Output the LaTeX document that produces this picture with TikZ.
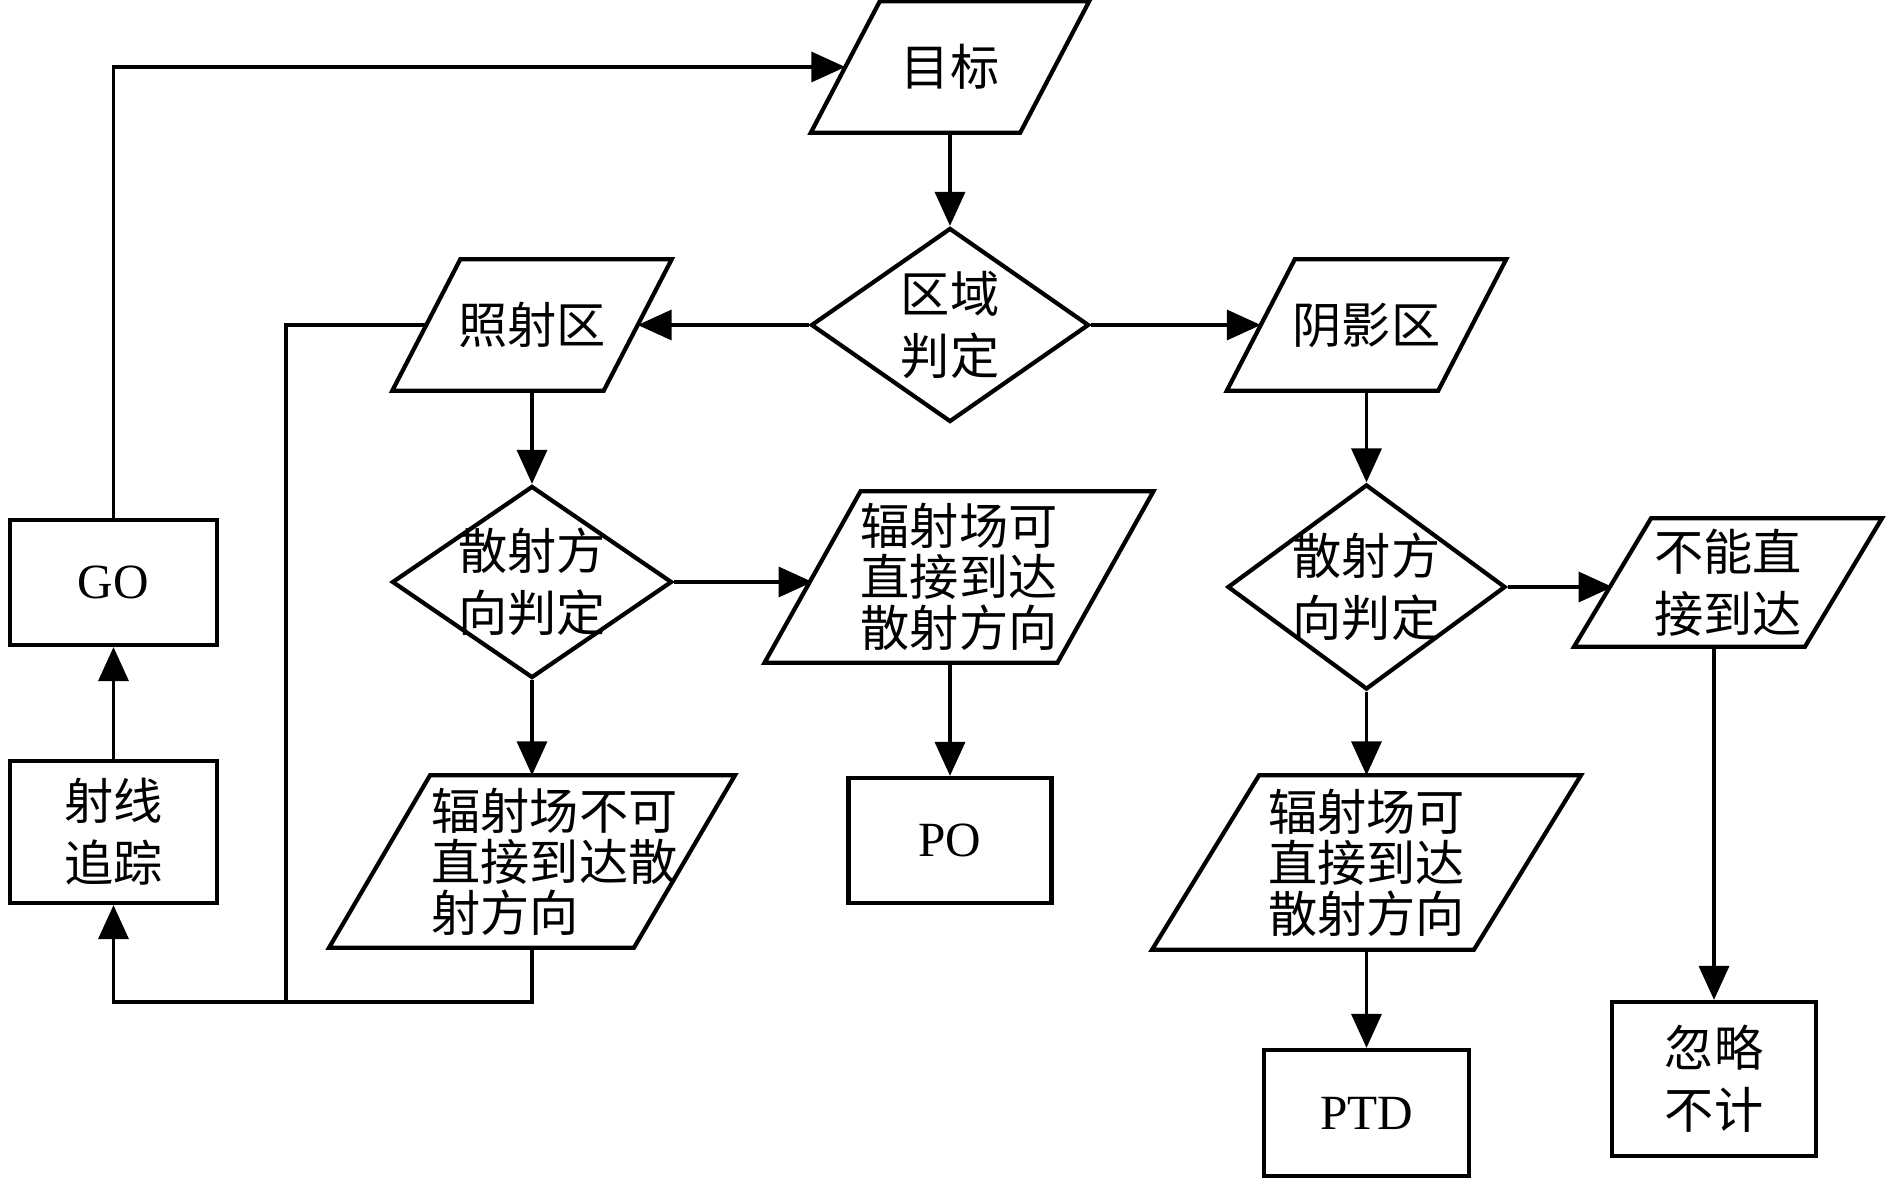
\documentclass[tikz,border=0pt]{standalone}
\usepackage{fontspec}
\setmainfont{Noto Sans CJK SC}
\newfontfamily\latinfont{Liberation Serif}
\usetikzlibrary{shapes.geometric,arrows.meta}

\begin{document}
\begin{tikzpicture}[
    >={Triangle[length=3.4mm,width=3mm]},
    font=\fontsize{14pt}{17.6pt}\selectfont,
    shapeLine/.style={line width=1.2pt},
    flowLine/.style={line width=1.0pt},
    procBox/.style={draw, shapeLine, inner sep=0pt, align=center},
    decDiamond/.style={draw, shapeLine, diamond, inner sep=0pt},
    ioPara/.style={inner sep=0pt, align=center, append after command={\pgfextra{\draw[shapeLine] ([xshift=#1]\tikzlastnode.north west) -- ([xshift=#1]\tikzlastnode.north east) -- ([xshift=-#1]\tikzlastnode.south east) -- ([xshift=-#1]\tikzlastnode.south west) -- cycle;}}},
    tightText/.style={font=\fontsize{14pt}{14.5pt}\selectfont}
]
    \useasboundingbox (0,0) rectangle (18.9,-11.81);

    % Target and region check
    \node[ioPara=0.345cm, minimum width=2.08cm, minimum height=1.30cm] (goal) at (9.50,-0.67) {目标};
    \node[decDiamond, minimum width=2.78cm, minimum height=1.94cm, label={[align=center]center:{区域\\判定}}] (region) at (9.50,-3.25) {};

    % Zones
    \node[ioPara=0.34cm, minimum width=2.10cm, minimum height=1.30cm] (lit) at (5.32,-3.25) {照射区};
    \node[ioPara=0.34cm, minimum width=2.10cm, minimum height=1.30cm] (shadow) at (13.665,-3.25) {阴影区};

    % Scattering direction checks
    \node[decDiamond, minimum width=2.80cm, minimum height=1.92cm, label={[align=center]center:{散射方\\向判定}}] (dirL) at (5.32,-5.82) {};
    \node[decDiamond, minimum width=2.78cm, minimum height=2.05cm, label={[align=center]center:{散射方\\向判定}}] (dirR) at (13.665,-5.87) {};

    % Field reach results
    \node[ioPara=0.48cm, minimum width=2.915cm, minimum height=1.70cm, tightText] (reachL) at (9.59,-5.77) {辐射场可\\直接到达\\散射方向};
    \node[ioPara=0.505cm, minimum width=3.035cm, minimum height=1.71cm, label={[xshift=0.225cm, align=left, tightText]center:{辐射场不可\\直接到达散\\射方向}}] (blockL) at (5.32,-8.615) {};
    \node[ioPara=0.535cm, minimum width=3.205cm, minimum height=1.73cm, tightText] (reachR) at (13.665,-8.625) {辐射场可\\直接到达\\散射方向};
    \node[ioPara=0.385cm, minimum width=2.295cm, minimum height=1.27cm] (blockR) at (17.28,-5.825) {不能直\\接到达};

    % Methods
    \node[procBox, minimum width=2.03cm, minimum height=1.25cm] (po) at (9.50,-8.405) {\latinfont PO};
    \node[procBox, minimum width=2.05cm, minimum height=1.26cm] (ptd) at (13.665,-11.13) {\latinfont PTD};
    \node[procBox, minimum width=2.04cm, minimum height=1.54cm] (ignore) at (17.14,-10.79) {忽略\\不计};
    \node[procBox, minimum width=2.07cm, minimum height=1.25cm] (go) at (1.135,-5.825) {\latinfont GO};
    \node[procBox, minimum width=2.07cm, minimum height=1.42cm] (trace) at (1.135,-8.32) {射线\\追踪};

    \coordinate (bend) at (2.86,-10.02);

    % Connections
    \draw[->, flowLine] (goal) -- (region);
    \draw[->, flowLine] (region) -- (lit);
    \draw[->, flowLine] (region) -- (shadow);
    \draw[->, flowLine] (lit) -- (dirL);
    \draw[->, flowLine] (shadow) -- (dirR);
    \draw[->, flowLine] (dirL.east) -- (dirL.east -| reachL.west);
    \draw[->, flowLine] (dirL) -- (blockL);
    \draw[->, flowLine] (po.north |- reachL.south) -- (po.north);
    \draw[->, flowLine] (dirR.east) -- (dirR.east -| blockR.west);
    \draw[->, flowLine] (dirR) -- (reachR);
    \draw[->, flowLine] (reachR) -- (ptd);
    \draw[->, flowLine] (ignore.north |- blockR.south) -- (ignore.north);

    % Feedback loop
    \draw[->, flowLine] (blockL.south) |- (bend) -| (trace.south);
    \draw[flowLine] (lit.west) -| (bend);
    \draw[->, flowLine] (trace) -- (go);
    \draw[->, flowLine] (go.north) |- (goal.west);
\end{tikzpicture}
\end{document}
